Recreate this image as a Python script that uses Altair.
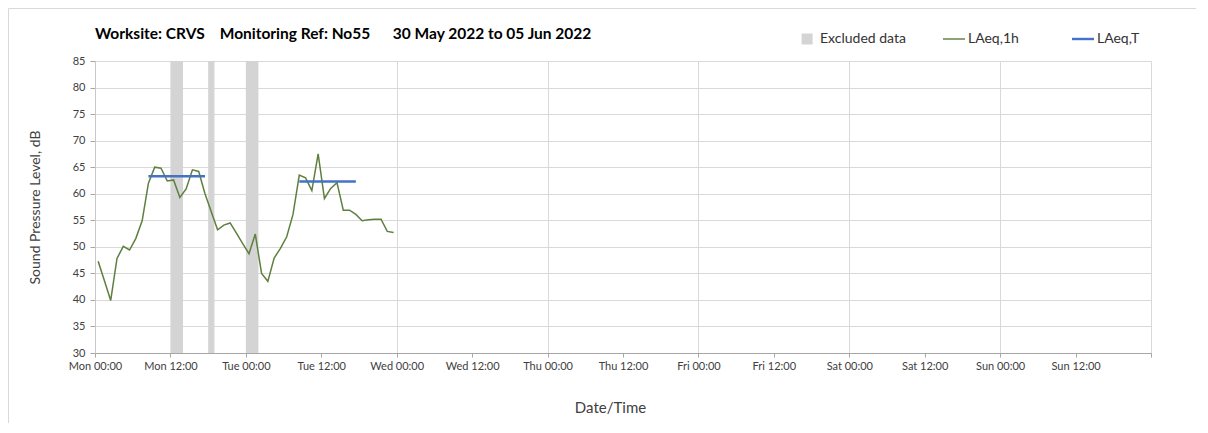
import altair as alt
import pandas as pd

FONT = "Lato"

TITLE_PARTS = ["Worksite: CRVS", "Monitoring Ref: No55", "30 May 2022 to 05 Jun 2022"]
SERIES = ["Excluded data", "LAeq,1h", "LAeq,T"]
SERIES_COLORS = ["#d4d4d4", "#5f7f3f", "#4472c4"]
# legend symbols: filled square, thin line, thicker line
SERIES_SHAPES = [
    "M-0.4,-0.5H0.6V0.5H-0.4Z",
    "M-1,-0.065H1V0.065H-1Z",
    "M-1,-0.11H1V0.11H-1Z",
]

# hourly LAeq,1h values, first at Mon 00:30, one per hour
LAEQ_1H_START = "2022-05-30 00:30"
LAEQ_1H = [47.3, 43.6, 39.9, 47.8, 50.1, 49.4, 51.6, 54.9, 62.0, 65.0, 64.8, 62.4,
           62.6, 59.3, 60.9, 64.5, 64.2, 60.0, 56.6, 53.2, 54.1, 54.5, 52.6, 50.6,
           48.7, 52.4, 45.0, 43.5, 47.9, 49.7, 51.9, 56.1, 63.5, 63.0, 60.6, 67.5,
           59.1, 61.0, 62.1, 56.9, 56.9, 56.1, 54.9, 55.1, 55.2, 55.2, 52.9, 52.7]

EXCL_START = ["2022-05-30 12:00", "2022-05-30 18:00", "2022-05-31 00:00"]
EXCL_END = ["2022-05-30 14:00", "2022-05-30 19:00", "2022-05-31 02:00"]

LAEQ_T_START = ["2022-05-30 08:30", "2022-05-31 08:30"]
LAEQ_T_END = ["2022-05-30 17:30", "2022-05-31 17:30"]
LAEQ_T = [63.3, 62.3]

X_START = "2022-05-30 00:00"
X_END = "2022-06-06 00:00"
Y_TICKS = list(range(30, 90, 5))

X_TITLE = "Date/Time"
Y_TITLE = "Sound Pressure Level, dB"

# ---------------------------------------------------------------------------
line_df = pd.DataFrame({
    "time": pd.date_range(LAEQ_1H_START, periods=len(LAEQ_1H), freq="h"),
    "value": LAEQ_1H,
})
excl_df = pd.DataFrame({"start": pd.to_datetime(EXCL_START), "end": pd.to_datetime(EXCL_END)})
laeqt_df = pd.DataFrame({"start": pd.to_datetime(LAEQ_T_START),
                         "end": pd.to_datetime(LAEQ_T_END), "value": LAEQ_T})


def dt(ts):
    t = pd.Timestamp(ts)
    return alt.DateTime(year=t.year, month=t.month, date=t.day, hours=t.hour, minutes=t.minute)


tick_times = pd.date_range(X_START, X_END, freq="12h")
x_ticks = [dt(t) for t in tick_times]
end_ts = pd.Timestamp(X_END)

x_scale = alt.Scale(domain=[dt(X_START), dt(X_END)])
y_scale = alt.Scale(domain=[Y_TICKS[0], Y_TICKS[-1]], nice=False, zero=False)

x_axis = alt.Axis(
    title=X_TITLE, values=x_ticks, format="%a %H:%M", labelAngle=0, labelOverlap=False,
    labelFlush=False,
    labelExpr=f"datum.value >= datetime({end_ts.year}, {end_ts.month - 1}, {end_ts.day}) ? '' : datum.label",
    gridOpacity={"condition": {"test": "hours(datum.value) == 12", "value": 0}, "value": 1},
    titleX=515, titleAlign="center", titlePadding=29, titleFontSize=15,
    domainColor="#a6a6a6", tickColor="#a6a6a6", tickSize=4, labelPadding=3,
)
y_axis = alt.Axis(
    title=Y_TITLE, values=Y_TICKS, domainColor="#c8c8c8", tickColor="#a6a6a6",
    tickSize=5, labelPadding=5, titlePadding=30,
)

frame = alt.Chart(pd.DataFrame({"a": [0]})).mark_rect(
    fillOpacity=0, stroke="#d9d9d9", strokeWidth=1
).encode(
    x=alt.value(-86.5), x2=alt.value(1200), y=alt.value(-52.5), y2=alt.value(500)
)

bands = alt.Chart(excl_df).mark_rect(color=SERIES_COLORS[0]).encode(
    x=alt.X("start:T", scale=x_scale, axis=x_axis),
    x2="end:T",
)

line = alt.Chart(line_df).mark_line(color=SERIES_COLORS[1], strokeWidth=1.5).encode(
    x=alt.X("time:T", scale=x_scale, axis=x_axis),
    y=alt.Y("value:Q", scale=y_scale, axis=y_axis),
)

laeqt = alt.Chart(laeqt_df).mark_rule(color=SERIES_COLORS[2], strokeWidth=2.5).encode(
    x=alt.X("start:T", scale=x_scale, axis=x_axis),
    x2="end:T",
    y=alt.Y("value:Q", scale=y_scale, axis=y_axis),
)


def legend_layer(idx, legend_x):
    names = [SERIES[i] for i in idx]
    leg = alt.Legend(
        orient="none", legendX=legend_x, legendY=-33, direction="horizontal", title=None,
        symbolSize=484, labelFontSize=14, labelFont=FONT, labelColor="#333333",
        columnPadding=37, labelOffset=3, padding=0, symbolStrokeWidth=0,
    )
    return alt.Chart(pd.DataFrame({"series": names})).mark_point(filled=True, opacity=1).encode(
        color=alt.Color("series:N", scale=alt.Scale(domain=names, range=[SERIES_COLORS[i] for i in idx]), legend=leg),
        shape=alt.Shape("series:N", scale=alt.Scale(domain=names, range=[SERIES_SHAPES[i] for i in idx]), legend=leg),
    ).transform_filter("false")


title_text = "\u00a0\u00a0\u00a0\u00a0".join(TITLE_PARTS[:2]) + "\u00a0\u00a0\u00a0\u00a0\u00a0\u00a0" + TITLE_PARTS[2]

chart = alt.layer(
    frame, bands, line, laeqt, legend_layer([0, 1], 700), legend_layer([2], 977)
).resolve_scale(color="independent", shape="independent").properties(
    width=1056, height=292,
    autosize=alt.AutoSizeParams(type="none"),
    padding={"left": 87, "top": 53, "right": 45, "bottom": 70},
    title=alt.TitleParams(text=title_text, anchor="start", frame="group", font=FONT,
                          fontSize=15.5, fontWeight="bold", color="#000000", offset=20, dy=54),
).configure_view(stroke=None).configure_axis(
    labelFont=FONT, titleFont=FONT, labelFontSize=11, titleFontSize=14,
    labelColor="#404040", titleColor="#404040", titleFontWeight="normal",
    gridColor="#d9d9d9", gridWidth=1,
)

chart.save("out.html", embed_options={"renderer": "svg", "actions": False})
